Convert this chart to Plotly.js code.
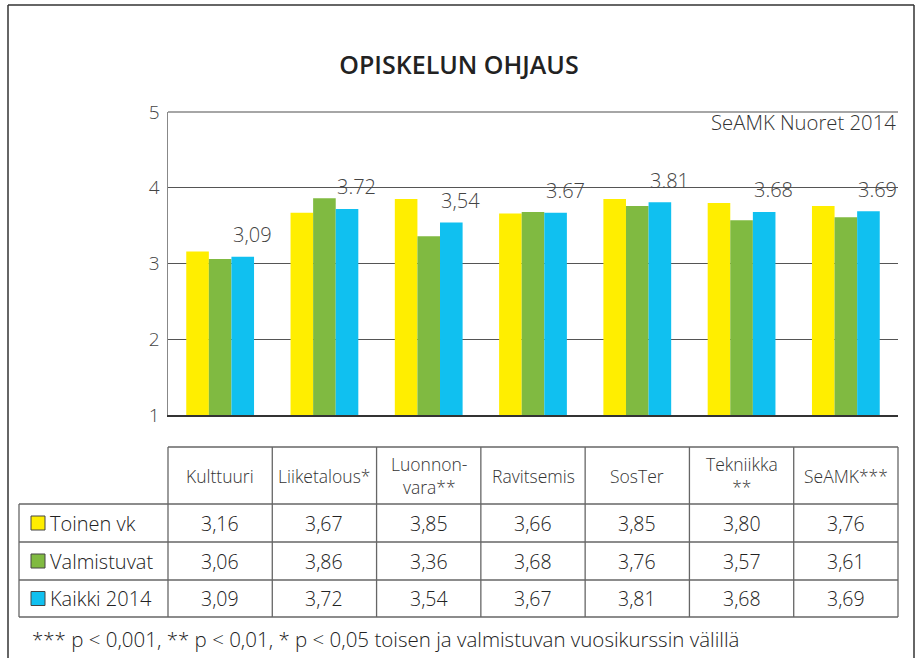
<!DOCTYPE html>
<html><head><meta charset="utf-8">
<script src="https://cdn.plot.ly/plotly-3.0.1.min.js"></script>
<style>html,body{margin:0;padding:0;background:#fff}#chart{width:918px;height:658px}</style>
</head><body><div id="chart"></div>
<script>
// ---- data ----
const categories = ["Kulttuuri","Liiketalous*","Luonnonvara**","Ravitsemis","SosTer","Tekniikka **","SeAMK***"];
const headerLabels = ["Kulttuuri","Liiketalous*","Luonnon-<br>vara**","Ravitsemis","SosTer","Tekniikka<br>**","SeAMK***"];
const seriesNames = ["Toinen vk","Valmistuvat","Kaikki 2014"];
const toinenVk   = [3.16,3.67,3.85,3.66,3.85,3.80,3.76];
const valmistuvat = [3.06,3.86,3.36,3.68,3.76,3.57,3.61];
const kaikki2014 = [3.09,3.72,3.54,3.67,3.81,3.68,3.69];
const barLabels = ["3,09","3.72","3,54","3.67","3.81","3.68","3.69"];
const yTicks = [1,2,3,4,5];
const chartTitle = "OPISKELUN OHJAUS";
const sourceNote = "SeAMK Nuoret 2014";
const footnote = "*** p < 0,001, ** p < 0,01, * p < 0,05 toisen ja valmistuvan vuosikurssin välillä";

// ---- style ----
const colors = ["#FFEE00","#80BA41","#10C0F0"];
const FONT = "'Open Sans', Roboto, sans-serif";
const LW = 300;
const W = 918, H = 658;
const M = {l:168, r:20, t:112, b:243};
const PW = W - M.l - M.r, PH = H - M.t - M.b;
const px = X => (X - M.l) / PW;       // pixel -> paper x
const py = Y => (H - M.b - Y) / PH;   // pixel -> paper y
const n = categories.length;

const series = [toinenVk, valmistuvat, kaikki2014];
const traces = series.map((vals, k) => ({
  type: "bar", x: categories, y: vals, name: seriesNames[k],
  marker: {color: colors[k], line: {width: 0}},
  hoverinfo: "skip", showlegend: false
}));

const annotations = [];
const shapes = [];

// value labels above the Kaikki bars
categories.forEach((c, i) => annotations.push({
  xref: "x", yref: "y", x: c, y: kaikki2014[i], text: barLabels[i],
  showarrow: false, xanchor: "center", yanchor: "middle", xshift: 32, yshift: 22,
  font: {family: FONT, size: 20, color: "#444", weight: LW}
}));

// source note
annotations.push({xref: "paper", yref: "paper", x: 1, y: py(122), text: sourceNote,
  showarrow: false, xanchor: "right", yanchor: "middle",
  font: {family: FONT, size: 20.3, color: "#333", weight: LW}});

// ---- table ----
const tHeadTop = 447, tHeadBot = 504, rowBots = [542, 580, 617], tLeft = 19;
const lineStyle = {color: "#666", width: 1.3};
shapes.push({type: "line", xref: "paper", yref: "paper", x0: 0, x1: 1, y0: py(tHeadTop), y1: py(tHeadTop), line: lineStyle});
[tHeadBot, ...rowBots].forEach(Y => shapes.push({type: "line", xref: "paper", yref: "paper",
  x0: px(tLeft), x1: 1, y0: py(Y), y1: py(Y), line: lineStyle}));
shapes.push({type: "line", xref: "paper", yref: "paper", x0: px(tLeft), x1: px(tLeft),
  y0: py(tHeadBot), y1: py(rowBots[2]), line: lineStyle});
for (let i = 0; i <= n; i++) {
  shapes.push({type: "line", xref: "paper", yref: "paper", x0: i / n, x1: i / n,
    y0: py(tHeadTop), y1: py(rowBots[2]), line: lineStyle});
}
categories.forEach((c, i) => annotations.push({
  xref: "x", yref: "paper", x: c, y: py((tHeadTop + tHeadBot) / 2), text: headerLabels[i],
  showarrow: false, xanchor: "center", yanchor: "middle",
  font: {family: FONT, size: 17.5, color: "#333", weight: LW}
}));
const rowTops = [tHeadBot, rowBots[0], rowBots[1]];
series.forEach((vals, k) => {
  const yc = (rowTops[k] + rowBots[k]) / 2;
  shapes.push({type: "rect", xref: "paper", yref: "paper",
    x0: px(31), x1: px(45), y0: py(yc - 7), y1: py(yc + 7),
    fillcolor: colors[k], line: {color: "#444", width: 1}});
  annotations.push({xref: "paper", yref: "paper", x: px(48), y: py(yc), text: seriesNames[k],
    showarrow: false, xanchor: "left", yanchor: "middle",
    font: {family: FONT, size: 20, color: "#222", weight: LW}});
  categories.forEach((c, i) => annotations.push({
    xref: "x", yref: "paper", x: c, y: py(yc), text: vals[i].toFixed(2).replace(".", ","),
    showarrow: false, xanchor: "center", yanchor: "middle",
    font: {family: FONT, size: 19.5, color: "#222", weight: LW}
  }));
});
annotations.push({xref: "paper", yref: "paper", x: px(30), y: py(639), text: footnote,
  showarrow: false, xanchor: "left", yanchor: "middle",
  font: {family: FONT, size: 20.5, color: "#222", weight: LW}});

// outer frame
const frame = {color: "#333", width: 1.5};
shapes.push({type: "line", xref: "paper", yref: "paper", x0: px(8), x1: px(914), y0: py(5), y1: py(5), line: frame});
shapes.push({type: "line", xref: "paper", yref: "paper", x0: px(8), x1: px(8), y0: py(5), y1: py(662), line: frame});
shapes.push({type: "line", xref: "paper", yref: "paper", x0: px(914), x1: px(914), y0: py(5), y1: py(662), line: frame});
shapes.push({type: "line", xref: "paper", yref: "paper", x0: 0, x1: 1, y0: 1, y1: 1, line: {color: "#888", width: 1.5}});

const layout = {
  width: W, height: H, margin: M,
  paper_bgcolor: "#fff", plot_bgcolor: "#fff",
  barmode: "group", bargap: 0.35, bargroupgap: 0,
  title: {text: chartTitle, xref: "container", x: 0.5, xanchor: "center",
    yref: "container", y: 1 - 65 / H, yanchor: "middle",
    font: {family: FONT, size: 25, color: "#222", weight: 600}},
  xaxis: {type: "category", range: [-0.5, n - 0.5], showticklabels: false, ticks: "",
    showgrid: false, zeroline: false, showline: true, linecolor: "#333", linewidth: 1.5, fixedrange: true},
  yaxis: {range: [1, 5], tickvals: yTicks, ticktext: yTicks.map(String), ticks: "",
    showgrid: true, gridcolor: "#555", gridwidth: 1.3, zeroline: false,
    showline: true, linecolor: "#888", linewidth: 1.5, ticklabelstandoff: 3,
    tickfont: {family: FONT, size: 19, color: "#444", weight: LW}, fixedrange: true},
  shapes, annotations
};

Plotly.newPlot("chart", traces, layout, {staticPlot: true, displayModeBar: false});
</script></body></html>
